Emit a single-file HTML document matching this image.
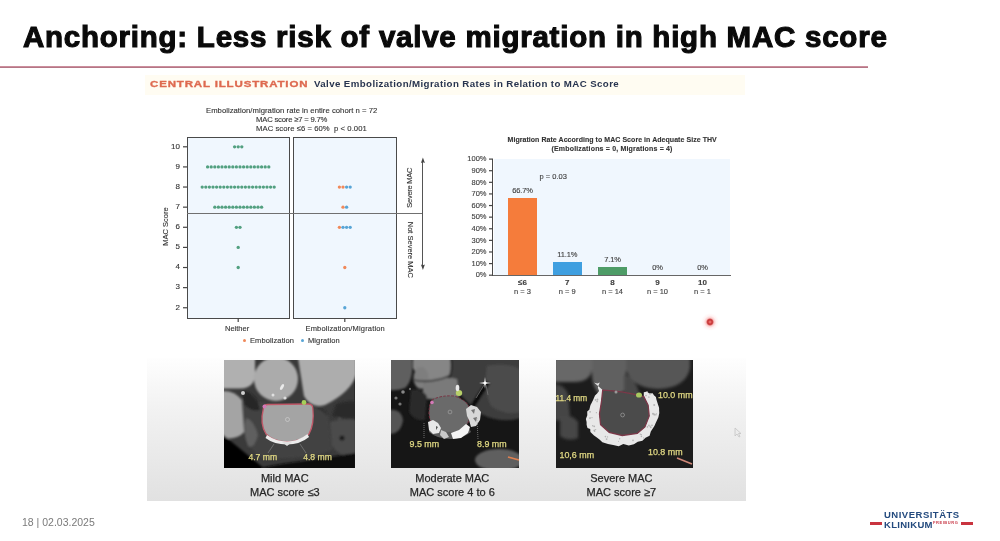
<!DOCTYPE html><html><head><meta charset="utf-8"><style>
*{margin:0;padding:0;box-sizing:border-box}
html,body{width:1000px;height:541px;overflow:hidden;background:#fff;font-family:"Liberation Sans",sans-serif}
.a{position:absolute;white-space:nowrap;line-height:1}
#title{left:23px;top:22px;font-size:29.5px;font-weight:bold;color:#0a0a0a;letter-spacing:0.76px;-webkit-text-stroke:1.1px #0a0a0a}
#rule{left:0;top:66px;width:868px;height:2.2px;background:linear-gradient(#d89aa8,#a86a7a)}
#hdrbg{left:145px;top:75px;width:600px;height:20px;background:#fffcf2}
#ci{left:150px;top:78.5px;font-size:9.6px;font-weight:bold;color:#de6a50;letter-spacing:0.7px;-webkit-text-stroke:0.35px #de6a50;transform:scaleX(1.2);transform-origin:0 0}
#cit{left:314px;top:79.3px;font-size:9.7px;font-weight:bold;color:#28344f;letter-spacing:0.4px}
.sm{font-size:7.7px;color:#333;-webkit-text-stroke:0.12px #333}
.panel{background:#f0f7fe;border:1px solid #4a4a4a}
.d{position:absolute;width:3.4px;height:3.4px;border-radius:50%}
.g{background:#52a080}
.o{background:#f0895a}
.b{background:#58a5d6}
.t{position:absolute;background:#4a4a4a}
.yl{font-size:8px;color:#333;text-align:right;-webkit-text-stroke:0.12px #333}
.bl{font-size:7px;color:#333;-webkit-text-stroke:0.12px #333}
#foot{left:22px;top:517px;font-size:10.5px;color:#7a7a7a}
.cap{font-size:11px;color:#262626;text-align:center;-webkit-text-stroke:0.25px #262626}
</style></head><body><div id="wrap" style="position:absolute;left:0;top:0;width:1000px;height:541px;filter:blur(0.35px)">
<div class="a" id="title">Anchoring: Less risk of valve migration in high MAC score</div>
<div class="a" id="rule"></div>
<div class="a" id="hdrbg"></div>
<div class="a" id="ci">CENTRAL ILLUSTRATION</div>
<div class="a" id="cit">Valve Embolization/Migration Rates in Relation to MAC Score</div>
<div class="a sm" style="left:206px;top:106.5px;letter-spacing:0.03px">Embolization/migration rate in entire cohort n = 72</div>
<div class="a sm" style="left:256px;top:115.5px;letter-spacing:-0.2px">MAC score ≥7 = 9.7%</div>
<div class="a sm" style="left:256px;top:125px;letter-spacing:0.05px">MAC score ≤6 = 60%&nbsp;&nbsp;p &lt; 0.001</div>
<div class="a panel" style="left:186.5px;top:136.5px;width:103px;height:182.5px"></div>
<div class="a panel" style="left:292.5px;top:136.5px;width:104.5px;height:182.5px"></div>
<div class="t" style="left:187px;top:213px;width:236px;height:1.3px;background:#707070"></div>
<div class="a yl" style="left:160px;width:20px;top:303.56px">2</div>
<div class="a yl" style="left:160px;width:20px;top:283.44px">3</div>
<div class="a yl" style="left:160px;width:20px;top:263.32px">4</div>
<div class="a yl" style="left:160px;width:20px;top:243.20px">5</div>
<div class="a yl" style="left:160px;width:20px;top:223.08px">6</div>
<div class="a yl" style="left:160px;width:20px;top:202.96px">7</div>
<div class="a yl" style="left:160px;width:20px;top:182.84px">8</div>
<div class="a yl" style="left:160px;width:20px;top:162.72px">9</div>
<div class="a yl" style="left:160px;width:20px;top:142.60px">10</div>
<svg class="a" style="left:0;top:0" width="1000" height="541"><line x1="183" x2="187" y1="307.76" y2="307.76" stroke="#444" stroke-width="1.2"/><line x1="183" x2="187" y1="287.64" y2="287.64" stroke="#444" stroke-width="1.2"/><line x1="183" x2="187" y1="267.52" y2="267.52" stroke="#444" stroke-width="1.2"/><line x1="183" x2="187" y1="247.40" y2="247.40" stroke="#444" stroke-width="1.2"/><line x1="183" x2="187" y1="227.28" y2="227.28" stroke="#444" stroke-width="1.2"/><line x1="183" x2="187" y1="207.16" y2="207.16" stroke="#444" stroke-width="1.2"/><line x1="183" x2="187" y1="187.04" y2="187.04" stroke="#444" stroke-width="1.2"/><line x1="183" x2="187" y1="166.92" y2="166.92" stroke="#444" stroke-width="1.2"/><line x1="183" x2="187" y1="146.80" y2="146.80" stroke="#444" stroke-width="1.2"/><line x1="238.2" x2="238.2" y1="318" y2="322" stroke="#444" stroke-width="1.2"/><line x1="344.8" x2="344.8" y1="318" y2="322" stroke="#444" stroke-width="1.2"/><circle cx="234.60" cy="146.80" r="1.65" fill="#52a080"/><circle cx="238.20" cy="146.80" r="1.65" fill="#52a080"/><circle cx="241.80" cy="146.80" r="1.65" fill="#52a080"/><circle cx="207.60" cy="166.92" r="1.65" fill="#52a080"/><circle cx="211.20" cy="166.92" r="1.65" fill="#52a080"/><circle cx="214.80" cy="166.92" r="1.65" fill="#52a080"/><circle cx="218.40" cy="166.92" r="1.65" fill="#52a080"/><circle cx="222.00" cy="166.92" r="1.65" fill="#52a080"/><circle cx="225.60" cy="166.92" r="1.65" fill="#52a080"/><circle cx="229.20" cy="166.92" r="1.65" fill="#52a080"/><circle cx="232.80" cy="166.92" r="1.65" fill="#52a080"/><circle cx="236.40" cy="166.92" r="1.65" fill="#52a080"/><circle cx="240.00" cy="166.92" r="1.65" fill="#52a080"/><circle cx="243.60" cy="166.92" r="1.65" fill="#52a080"/><circle cx="247.20" cy="166.92" r="1.65" fill="#52a080"/><circle cx="250.80" cy="166.92" r="1.65" fill="#52a080"/><circle cx="254.40" cy="166.92" r="1.65" fill="#52a080"/><circle cx="258.00" cy="166.92" r="1.65" fill="#52a080"/><circle cx="261.60" cy="166.92" r="1.65" fill="#52a080"/><circle cx="265.20" cy="166.92" r="1.65" fill="#52a080"/><circle cx="268.80" cy="166.92" r="1.65" fill="#52a080"/><circle cx="202.20" cy="187.04" r="1.65" fill="#52a080"/><circle cx="205.80" cy="187.04" r="1.65" fill="#52a080"/><circle cx="209.40" cy="187.04" r="1.65" fill="#52a080"/><circle cx="213.00" cy="187.04" r="1.65" fill="#52a080"/><circle cx="216.60" cy="187.04" r="1.65" fill="#52a080"/><circle cx="220.20" cy="187.04" r="1.65" fill="#52a080"/><circle cx="223.80" cy="187.04" r="1.65" fill="#52a080"/><circle cx="227.40" cy="187.04" r="1.65" fill="#52a080"/><circle cx="231.00" cy="187.04" r="1.65" fill="#52a080"/><circle cx="234.60" cy="187.04" r="1.65" fill="#52a080"/><circle cx="238.20" cy="187.04" r="1.65" fill="#52a080"/><circle cx="241.80" cy="187.04" r="1.65" fill="#52a080"/><circle cx="245.40" cy="187.04" r="1.65" fill="#52a080"/><circle cx="249.00" cy="187.04" r="1.65" fill="#52a080"/><circle cx="252.60" cy="187.04" r="1.65" fill="#52a080"/><circle cx="256.20" cy="187.04" r="1.65" fill="#52a080"/><circle cx="259.80" cy="187.04" r="1.65" fill="#52a080"/><circle cx="263.40" cy="187.04" r="1.65" fill="#52a080"/><circle cx="267.00" cy="187.04" r="1.65" fill="#52a080"/><circle cx="270.60" cy="187.04" r="1.65" fill="#52a080"/><circle cx="274.20" cy="187.04" r="1.65" fill="#52a080"/><circle cx="214.80" cy="207.16" r="1.65" fill="#52a080"/><circle cx="218.40" cy="207.16" r="1.65" fill="#52a080"/><circle cx="222.00" cy="207.16" r="1.65" fill="#52a080"/><circle cx="225.60" cy="207.16" r="1.65" fill="#52a080"/><circle cx="229.20" cy="207.16" r="1.65" fill="#52a080"/><circle cx="232.80" cy="207.16" r="1.65" fill="#52a080"/><circle cx="236.40" cy="207.16" r="1.65" fill="#52a080"/><circle cx="240.00" cy="207.16" r="1.65" fill="#52a080"/><circle cx="243.60" cy="207.16" r="1.65" fill="#52a080"/><circle cx="247.20" cy="207.16" r="1.65" fill="#52a080"/><circle cx="250.80" cy="207.16" r="1.65" fill="#52a080"/><circle cx="254.40" cy="207.16" r="1.65" fill="#52a080"/><circle cx="258.00" cy="207.16" r="1.65" fill="#52a080"/><circle cx="261.60" cy="207.16" r="1.65" fill="#52a080"/><circle cx="236.40" cy="227.28" r="1.65" fill="#52a080"/><circle cx="240.00" cy="227.28" r="1.65" fill="#52a080"/><circle cx="238.20" cy="247.40" r="1.65" fill="#52a080"/><circle cx="238.20" cy="267.52" r="1.65" fill="#52a080"/><circle cx="339.40" cy="187.04" r="1.65" fill="#f0895a"/><circle cx="343.00" cy="187.04" r="1.65" fill="#f0895a"/><circle cx="346.60" cy="187.04" r="1.65" fill="#58a5d6"/><circle cx="350.20" cy="187.04" r="1.65" fill="#58a5d6"/><circle cx="343.00" cy="207.16" r="1.65" fill="#f0895a"/><circle cx="346.60" cy="207.16" r="1.65" fill="#58a5d6"/><circle cx="339.40" cy="227.28" r="1.65" fill="#f0895a"/><circle cx="343.00" cy="227.28" r="1.65" fill="#58a5d6"/><circle cx="346.60" cy="227.28" r="1.65" fill="#58a5d6"/><circle cx="350.20" cy="227.28" r="1.65" fill="#58a5d6"/><circle cx="344.80" cy="267.52" r="1.65" fill="#f0895a"/><circle cx="344.80" cy="307.76" r="1.65" fill="#58a5d6"/></svg>
<div class="a bl" style="left:225px;top:325px;font-size:7.5px">Neither</div>
<div class="a bl" style="left:305.5px;top:325px;font-size:7.5px;letter-spacing:0.16px">Embolization/Migration</div>
<div class="d o" style="left:242.8px;top:339px"></div>
<div class="a bl" style="left:250px;top:337px;font-size:7.5px;letter-spacing:0.1px">Embolization</div>
<div class="d b" style="left:300.8px;top:339px"></div>
<div class="a bl" style="left:308px;top:337px;font-size:7.5px;letter-spacing:0.1px">Migration</div>
<div class="a bl" style="left:148px;top:224px;width:36px;text-align:center;transform:rotate(-90deg);font-size:7.5px">MAC Score</div>
<div class="t" style="left:422.3px;top:161px;width:1.2px;height:106px;background:#555"></div>
<svg class="a" style="left:419px;top:157px" width="8" height="8"><path d="M3.9 0.5 L5.9 6 L3.9 5.2 L1.9 6 Z" fill="#444"/></svg>
<svg class="a" style="left:419px;top:264px" width="8" height="8"><path d="M3.9 6 L5.9 0.5 L3.9 1.3 L1.9 0.5 Z" fill="#444"/></svg>
<div class="a bl" style="left:389px;top:184px;width:42px;text-align:center;transform:rotate(-90deg);font-size:7.5px;letter-spacing:-0.25px">Severe MAC</div>
<div class="a bl" style="left:382px;top:246px;width:56px;text-align:center;transform:rotate(90deg);font-size:7.5px">Not Severe MAC</div>
<div class="a bl" style="left:507.5px;top:136px;font-size:7px;font-weight:bold;color:#333;letter-spacing:0.05px">Migration Rate According to MAC Score in Adequate Size THV</div>
<div class="a bl" style="left:551.5px;top:145px;font-size:7px;font-weight:bold;color:#333;letter-spacing:0.17px">(Embolizations = 0, Migrations = 4)</div>
<div class="a" style="left:494px;top:159px;width:236px;height:116px;background:#f0f7fe"></div>
<div class="t" style="left:492px;top:159px;width:1.3px;height:117px"></div>
<div class="t" style="left:492px;top:275px;width:239px;height:1.3px;background:#666"></div>
<svg class="a" style="left:480px;top:0" width="20" height="300"><line x1="9" x2="13" y1="275.20" y2="275.20" stroke="#444" stroke-width="1.2"/></svg>
<div class="a yl" style="left:456px;width:30.5px;top:271.40px;font-size:7.5px;color:#444">0%</div>
<svg class="a" style="left:480px;top:0" width="20" height="300"><line x1="9" x2="13" y1="263.59" y2="263.59" stroke="#444" stroke-width="1.2"/></svg>
<div class="a yl" style="left:456px;width:30.5px;top:259.79px;font-size:7.5px;color:#444">10%</div>
<svg class="a" style="left:480px;top:0" width="20" height="300"><line x1="9" x2="13" y1="251.98" y2="251.98" stroke="#444" stroke-width="1.2"/></svg>
<div class="a yl" style="left:456px;width:30.5px;top:248.18px;font-size:7.5px;color:#444">20%</div>
<svg class="a" style="left:480px;top:0" width="20" height="300"><line x1="9" x2="13" y1="240.37" y2="240.37" stroke="#444" stroke-width="1.2"/></svg>
<div class="a yl" style="left:456px;width:30.5px;top:236.57px;font-size:7.5px;color:#444">30%</div>
<svg class="a" style="left:480px;top:0" width="20" height="300"><line x1="9" x2="13" y1="228.76" y2="228.76" stroke="#444" stroke-width="1.2"/></svg>
<div class="a yl" style="left:456px;width:30.5px;top:224.96px;font-size:7.5px;color:#444">40%</div>
<svg class="a" style="left:480px;top:0" width="20" height="300"><line x1="9" x2="13" y1="217.15" y2="217.15" stroke="#444" stroke-width="1.2"/></svg>
<div class="a yl" style="left:456px;width:30.5px;top:213.35px;font-size:7.5px;color:#444">50%</div>
<svg class="a" style="left:480px;top:0" width="20" height="300"><line x1="9" x2="13" y1="205.54" y2="205.54" stroke="#444" stroke-width="1.2"/></svg>
<div class="a yl" style="left:456px;width:30.5px;top:201.74px;font-size:7.5px;color:#444">60%</div>
<svg class="a" style="left:480px;top:0" width="20" height="300"><line x1="9" x2="13" y1="193.93" y2="193.93" stroke="#444" stroke-width="1.2"/></svg>
<div class="a yl" style="left:456px;width:30.5px;top:190.13px;font-size:7.5px;color:#444">70%</div>
<svg class="a" style="left:480px;top:0" width="20" height="300"><line x1="9" x2="13" y1="182.32" y2="182.32" stroke="#444" stroke-width="1.2"/></svg>
<div class="a yl" style="left:456px;width:30.5px;top:178.52px;font-size:7.5px;color:#444">80%</div>
<svg class="a" style="left:480px;top:0" width="20" height="300"><line x1="9" x2="13" y1="170.71" y2="170.71" stroke="#444" stroke-width="1.2"/></svg>
<div class="a yl" style="left:456px;width:30.5px;top:166.91px;font-size:7.5px;color:#444">90%</div>
<svg class="a" style="left:480px;top:0" width="20" height="300"><line x1="9" x2="13" y1="159.10" y2="159.10" stroke="#444" stroke-width="1.2"/></svg>
<div class="a yl" style="left:456px;width:30.5px;top:155.30px;font-size:7.5px;color:#444">100%</div>
<div class="a" style="left:508.00px;top:197.76px;width:29px;height:77.44px;background:#f57c3b"></div>
<div class="a bl" style="left:502.50px;width:40px;text-align:center;top:186.76px;font-size:7.5px;color:#444;letter-spacing:-0.15px">66.7%</div>
<div class="a bl" style="left:502.50px;width:40px;text-align:center;top:279px;font-size:8px;font-weight:bold;color:#444">≤6</div>
<div class="a bl" style="left:502.50px;width:40px;text-align:center;top:288px;font-size:7.5px;color:#444">n = 3</div>
<div class="a" style="left:552.80px;top:262.31px;width:29px;height:12.89px;background:#3f9fe0"></div>
<div class="a bl" style="left:547.30px;width:40px;text-align:center;top:251.31px;font-size:7.5px;color:#444;letter-spacing:-0.15px">11.1%</div>
<div class="a bl" style="left:547.30px;width:40px;text-align:center;top:279px;font-size:8px;font-weight:bold;color:#444">7</div>
<div class="a bl" style="left:547.30px;width:40px;text-align:center;top:288px;font-size:7.5px;color:#444">n = 9</div>
<div class="a" style="left:598.00px;top:266.96px;width:29px;height:8.24px;background:#4e9c67"></div>
<div class="a bl" style="left:592.50px;width:40px;text-align:center;top:255.96px;font-size:7.5px;color:#444;letter-spacing:-0.15px">7.1%</div>
<div class="a bl" style="left:592.50px;width:40px;text-align:center;top:279px;font-size:8px;font-weight:bold;color:#444">8</div>
<div class="a bl" style="left:592.50px;width:40px;text-align:center;top:288px;font-size:7.5px;color:#444">n = 14</div>
<div class="a bl" style="left:637.50px;width:40px;text-align:center;top:264.00px;font-size:7.5px;color:#444;letter-spacing:-0.15px">0%</div>
<div class="a bl" style="left:637.50px;width:40px;text-align:center;top:279px;font-size:8px;font-weight:bold;color:#444">9</div>
<div class="a bl" style="left:637.50px;width:40px;text-align:center;top:288px;font-size:7.5px;color:#444">n = 10</div>
<div class="a bl" style="left:682.50px;width:40px;text-align:center;top:264.00px;font-size:7.5px;color:#444;letter-spacing:-0.15px">0%</div>
<div class="a bl" style="left:682.50px;width:40px;text-align:center;top:279px;font-size:8px;font-weight:bold;color:#444">10</div>
<div class="a bl" style="left:682.50px;width:40px;text-align:center;top:288px;font-size:7.5px;color:#444">n = 1</div>
<div class="a bl" style="left:539.5px;top:173px;font-size:7.5px;color:#444">p = 0.03</div>
<div class="a" style="left:701px;top:312.5px;width:18px;height:18px;border-radius:50%;background:radial-gradient(circle closest-side,#f28a86 0,#dc5050 14%,#c43434 25%,#d45454 33%,rgba(245,150,150,.5) 44%,rgba(255,200,200,.22) 68%,rgba(255,255,255,0) 100%)"></div>
<div class="a" style="left:146.5px;top:358px;width:599px;height:142.5px;background:linear-gradient(#fefefe,#f2f2f2 35%,#e1e1e1)"></div>
<div class="a" style="left:224.0px;top:359.5px;width:130.5px;height:108px;background:#1a1a1a;overflow:hidden"><svg width="130.5" height="108" viewBox="0 0 130.5 108" style="position:absolute;left:0;top:0"><defs><filter id="bl1" x="-20%" y="-20%" width="140%" height="140%"><feGaussianBlur stdDeviation="1.3"/></filter><filter id="bs1"><feGaussianBlur stdDeviation="0.6"/></filter></defs><rect width="130.5" height="108" fill="#3a3a3a"/><g filter="url(#bl1)"><path d="M-2 -2 H31 V14 Q31 28 16 28.5 H-2 Z" fill="#b0b0b0"/><circle cx="52" cy="19" r="22" fill="#ababab"/><path d="M74 -2 H132 V15 Q127 32 101 45 Q87 49 80 36 Z" fill="#adadad"/><path d="M-2 31 Q10 30 18 40 L20 72 Q14 80 -2 78 Z" fill="#a4a4a4"/><circle cx="120" cy="47" r="3" fill="#a0a0a0"/><circle cx="116" cy="56" r="2.5" fill="#909090"/><path d="M106 62 Q118 58 132 60 V96 Q114 97 108 86 Z" fill="#4c4c4c"/><path d="M92 48 Q100 46 104 56 L100 70 Q94 60 92 48 Z" fill="#2e2e2e"/><path d="M112 44 Q124 40 132 42 L132 58 Q120 60 108 56 Z" fill="#2a2a2a"/><circle cx="118" cy="78" r="2.6" fill="#1e1e1e"/><path d="M20 44 Q40 40 60 46 Q90 42 104 56 L108 90 Q80 100 40 98 Q22 90 20 70 Z" fill="#434343"/><path d="M22 58 Q30 60 34 75 Q30 90 24 86 Q18 72 22 58 Z" fill="#5e5e5e"/><path d="M18 30 Q28 32 34 42 L36 50 Q26 52 20 44 Z" fill="#262626"/><path d="M-2 74 L42 110 L-2 110 Z" fill="#060606"/><path d="M36 108 Q60 103 80 101 Q105 97 132 93 V110 H36 Z" fill="#0e0e0e"/></g><g filter="url(#bs1)"><path d="M39.5 48 Q39.5 44.5 44 44.5 L84 44 Q88.5 44 88.8 48 Q90.5 64 85 74 Q76 82 63 82 Q50 82 42 74 Q35.5 64 39.5 48 Z" fill="#a4a4a4" stroke="#c05868" stroke-width="1.3"/><path d="M43 75 Q52 81.5 63 81.5 Q74 81.5 83.5 74 L85 77 Q76 84.5 63 84.5 Q50 84.5 41.5 78 Z" fill="#ececec"/><path d="M58 82 L63 86 L68 82 Z" fill="#e0e0e0"/><circle cx="63.5" cy="59.5" r="2" fill="none" stroke="#d4d4d4" stroke-width="0.6"/><circle cx="40.5" cy="46.5" r="2" fill="#d47ab8"/><circle cx="80" cy="42.5" r="2.4" fill="#a6d05a"/><ellipse cx="58" cy="27" rx="1.4" ry="3.2" fill="#eaeaea" transform="rotate(30 58 27)"/><circle cx="49" cy="35" r="1.5" fill="#e0e0e0"/><circle cx="61" cy="38" r="1.6" fill="#dcdcdc"/><circle cx="19" cy="33" r="2" fill="#d0d0d0"/><path d="M50 84 L44 93 M76 84 L82 93" stroke="#999" stroke-width="0.5"/></g><text x="24.4" y="99.5" font-family="Liberation Sans" font-size="8.6" fill="#e2da84" stroke="#e2da84" stroke-width="0.25" filter="url(#bs1)">4.7 mm</text><text x="79.2" y="99.5" font-family="Liberation Sans" font-size="8.6" fill="#e2da84" stroke="#e2da84" stroke-width="0.25" filter="url(#bs1)">4.8 mm</text></svg></div>
<div class="a" style="left:391.0px;top:359.5px;width:127.5px;height:108px;background:#1a1a1a;overflow:hidden"><svg width="127.5" height="108" viewBox="0 0 127.5 108" style="position:absolute;left:0;top:0"><defs><filter id="bl2" x="-20%" y="-20%" width="140%" height="140%"><feGaussianBlur stdDeviation="1.0"/></filter><filter id="bs2"><feGaussianBlur stdDeviation="0.6"/></filter></defs><rect width="127.5" height="108" fill="#161616"/><g filter="url(#bl2)"><path d="M58 -2 H130 V58 Q110 64 90 54 Q72 40 60 22 Z" fill="#3e3e3e"/><path d="M96 6 Q118 2 130 10 V52 Q114 56 100 46 Q92 30 96 6 Z" fill="#4c4c4c"/><path d="M-2 -2 H21 Q23 20 14 28 Q6 31 -2 30 Z" fill="#5e5e5e"/><path d="M22 -2 H60 V14 Q52 22 40 21 Q26 19 22 8 Z" fill="#868686"/><ellipse cx="30" cy="18" rx="7.5" ry="11" fill="#7e7e7e"/><path d="M32 22 Q48 15 66 19 L68 38 Q50 42 32 38 Z" fill="#7a7a7a"/><path d="M97 22 L74 58" stroke="#111" stroke-width="5"/><path d="M22 20 Q40 24 58 16" stroke="#3a3a3a" stroke-width="1.6" fill="none"/><path d="M60 -2 Q62 10 58 18" stroke="#222" stroke-width="2" fill="none"/><path d="M-2 50 Q10 48 12 60 Q10 74 -2 74 Z" fill="#555"/><path d="M20 30 Q30 28 36 36 L34 60 Q24 62 18 52 Z" fill="#2a2a2a"/><ellipse cx="108" cy="100" rx="24" ry="11" fill="#5e5e5e"/></g><g filter="url(#bs2)"><circle cx="12" cy="32" r="1.8" fill="#888"/><circle cx="5" cy="38" r="1.6" fill="#777"/><circle cx="9" cy="44" r="1.6" fill="#777"/><circle cx="19" cy="29" r="1.2" fill="#666"/><path d="M41 40 Q50 35 63 36 Q77 40 79 50 Q79 64 72 70 Q60 75 48 72 Q39 66 38 54 Q38 44 41 40 Z" fill="#6a6a6a" stroke="#7a3040" stroke-width="1" stroke-dasharray="2.5 1.5"/><path d="M38 64 Q46 71 57 72 Q68 72 77 66 L80 72 Q71 79 60 79 Q46 79 38 72 Z" fill="#5a5a5a"/><path d="M75 49 L80 45 L86 47 L90 52 L89 60 L85 66 L80 67 L78 60 L76 56 Z" fill="#d8d8d8"/><path d="M80 50 L84 49 L83 54 Z M82 58 L86 57 L85 62 Z" fill="#777"/><path d="M37 62 L42 60 L47 63 L50 68 L48 73 L42 74 L38 70 Z" fill="#e8e8e8"/><path d="M50 70 L55 72 L58 77 L53 79 L49 75 Z" fill="#c8c8c8"/><path d="M60 73 L68 70 L75 64 L79 67 L77 73 L70 78 L62 79 Z" fill="#f4f4f4"/><path d="M45 66 L47 67 L45 70 Z" fill="#555"/><circle cx="59" cy="52" r="1.9" fill="none" stroke="#aaa" stroke-width="0.6"/><circle cx="41" cy="42.5" r="1.8" fill="#d47ab8"/><ellipse cx="68" cy="33" rx="3.2" ry="3" fill="#b8d068"/><ellipse cx="66.5" cy="28" rx="1.8" ry="3.2" fill="#e8e8e8"/><path d="M94 17 L94.7 22.3 L100 23 L94.7 23.7 L94 29 L93.3 23.7 L88 23 L93.3 22.3 Z" fill="#fff"/><circle cx="94" cy="23" r="1.5" fill="#fff"/><path d="M93 25 L85 38 M95 25 L97 35" stroke="#777" stroke-width="0.7"/><path d="M33 63 L33 78 M86 58 L87 80" stroke="#aaa" stroke-width="0.6" stroke-dasharray="1 1"/><path d="M117 97 L128 100" stroke="#e08050" stroke-width="1.8"/></g><text x="18.5" y="87.0" font-family="Liberation Sans" font-size="8.9" fill="#e2da84" stroke="#e2da84" stroke-width="0.25" filter="url(#bs2)">9.5 mm</text><text x="86.0" y="87.0" font-family="Liberation Sans" font-size="8.9" fill="#e2da84" stroke="#e2da84" stroke-width="0.25" filter="url(#bs2)">8.9 mm</text></svg></div>
<div class="a" style="left:556.0px;top:359.5px;width:136.5px;height:108px;background:#1a1a1a;overflow:hidden"><svg width="136.5" height="108" viewBox="0 0 136.5 108" style="position:absolute;left:0;top:0"><defs><filter id="bl3" x="-20%" y="-20%" width="140%" height="140%"><feGaussianBlur stdDeviation="1.4"/></filter><filter id="bs3"><feGaussianBlur stdDeviation="0.6"/></filter></defs><rect width="136.5" height="108" fill="#1c1c1c"/><g filter="url(#bl3)"><path d="M-2 -2 H36 V10 Q34 22 18 22 H-2 Z" fill="#686868"/><path d="M36 -2 H70 V28 Q62 40 48 38 Q36 30 36 14 Z" fill="#606060"/><path d="M70 -2 H134 V8 Q130 28 102 29 Q76 28 70 10 Z" fill="#575757"/><path d="M-2 24 Q8 24 12 34 L14 56 Q8 62 -2 60 Z" fill="#444"/><path d="M4 56 Q16 54 22 62 L22 78 Q12 82 4 76 Z" fill="#474747"/><path d="M68 14 Q80 18 84 36 L78 54 L68 54 Z" fill="#4a4a4a"/><path d="M48 -2 H62 V20 Q54 26 48 20 Z" fill="#606060"/></g><g filter="url(#bs3)"><path d="M38.0 22.5 L39.3 23.0 L41.4 23.5 L43.8 22.6 L41.9 26.8 L42.0 27.9 L43.1 30.9 L41.1 33.5 L39.0 35.4 L37.3 39.5 L35.6 42.9 L34.5 45.0 L33.3 49.8 L31.2 51.4 L31.3 55.3 L29.9 59.0 L30.6 62.0 L30.6 64.7 L31.5 67.9 L34.2 68.9 L34.4 72.0 L38.0 75.4 L40.5 77.2 L43.5 79.6 L46.4 82.2 L52.0 84.0 L57.2 85.1 L62.7 86.3 L67.3 84.1 L72.8 85.5 L77.9 84.3 L81.8 81.7 L86.4 80.7 L89.5 77.7 L93.6 75.8 L94.8 71.5 L98.4 66.1 L99.6 63.2 L102.4 57.2 L103.3 52.9 L103.1 49.9 L103.1 47.8 L101.9 44.2 L100.4 39.6 L99.9 37.0 L97.9 35.3 L96.7 33.3 L93.3 33.4 L91.7 32.2 L91.5 31.3 L89.1 32.0 L87.8 32.3 L87.8 36.6 L92.1 45.2 L93.2 56.0 L88.9 66.9 L81.3 73.3 L66.2 75.5 L53.2 72.3 L44.6 64.7 L43.5 53.9 L45.6 40.9 L46.7 30.1 Z" fill="#e8e8e8"/><g fill="#b4b4b4"><circle cx="97.0" cy="53.7" r="1.0"/><circle cx="92.9" cy="36.9" r="0.6"/><circle cx="39.6" cy="69.6" r="0.7"/><circle cx="94.0" cy="34.1" r="0.8"/><circle cx="100.4" cy="53.9" r="0.7"/><circle cx="49.4" cy="76.6" r="0.8"/><circle cx="99.9" cy="55.0" r="0.6"/><circle cx="94.1" cy="66.2" r="0.7"/><circle cx="96.0" cy="65.3" r="0.9"/><circle cx="91.4" cy="66.9" r="0.8"/><circle cx="38.6" cy="71.3" r="0.8"/><circle cx="40.4" cy="52.7" r="0.6"/><circle cx="90.0" cy="35.6" r="0.8"/><circle cx="92.9" cy="65.4" r="0.8"/><circle cx="38.2" cy="66.3" r="0.9"/><circle cx="51.5" cy="76.9" r="0.7"/><circle cx="36.0" cy="57.6" r="0.7"/><circle cx="98.2" cy="54.5" r="1.0"/><circle cx="34.2" cy="58.0" r="0.8"/><circle cx="87.7" cy="77.9" r="0.6"/><circle cx="98.2" cy="45.1" r="1.0"/><circle cx="85.3" cy="74.7" r="0.8"/><circle cx="38.3" cy="70.3" r="0.9"/><circle cx="85.4" cy="76.5" r="0.8"/><circle cx="39.7" cy="39.8" r="0.6"/><circle cx="41.1" cy="41.6" r="0.8"/><circle cx="50.6" cy="79.1" r="0.9"/><circle cx="39.5" cy="39.8" r="0.9"/><circle cx="33.7" cy="58.2" r="0.6"/><circle cx="41.5" cy="39.4" r="0.9"/><circle cx="36.7" cy="65.7" r="0.7"/><circle cx="92.9" cy="37.3" r="0.5"/><circle cx="41.3" cy="40.7" r="0.5"/><circle cx="84.3" cy="74.3" r="0.7"/><circle cx="63.7" cy="78.7" r="0.7"/><circle cx="34.1" cy="51.8" r="0.9"/><circle cx="94.8" cy="67.3" r="0.9"/><circle cx="62.5" cy="81.2" r="0.5"/><circle cx="98.9" cy="54.6" r="0.8"/><circle cx="77.0" cy="80.4" r="0.8"/></g><path d="M87.8 36.6 L92.1 45.2 L93.2 56.0 L88.9 66.9 L81.3 73.3 L66.2 75.5 L53.2 72.3 L44.6 64.7 L43.5 53.9 L45.6 40.9 L46.7 30.1 Q67 31 87.8 36.6 Z" fill="#4c4c4c" stroke="#7a3848" stroke-width="1.3"/><circle cx="66.6" cy="55" r="1.9" fill="none" stroke="#aaa" stroke-width="0.6"/><ellipse cx="83" cy="35" rx="3" ry="2.6" fill="#a8c860"/><circle cx="60" cy="32" r="1.5" fill="#999"/><path d="M121 98 L136 104" stroke="#d08878" stroke-width="1.8"/></g><text x="-0.5" y="41.0" font-family="Liberation Sans" font-size="8.3" fill="#e2da84" stroke="#e2da84" stroke-width="0.25" filter="url(#bs3)">11.4 mm</text><text x="102.0" y="38.0" font-family="Liberation Sans" font-size="8.9" fill="#e2da84" stroke="#e2da84" stroke-width="0.25" filter="url(#bs3)">10.0 mm</text><text x="3.5" y="98.0" font-family="Liberation Sans" font-size="8.9" fill="#e2da84" stroke="#e2da84" stroke-width="0.25" filter="url(#bs3)">10,6 mm</text><text x="92.0" y="95.0" font-family="Liberation Sans" font-size="8.9" fill="#e2da84" stroke="#e2da84" stroke-width="0.25" filter="url(#bs3)">10.8 mm</text></svg></div>
<div class="a cap" style="left:224.8px;width:120px;top:473px">Mild MAC</div>
<div class="a cap" style="left:224.8px;width:120px;top:486.5px">MAC score ≤3</div>
<div class="a cap" style="left:392.3px;width:120px;top:473px">Moderate MAC</div>
<div class="a cap" style="left:392.3px;width:120px;top:486.5px">MAC score 4 to 6</div>
<div class="a cap" style="left:561.4px;width:120px;top:473px">Severe MAC</div>
<div class="a cap" style="left:561.4px;width:120px;top:486.5px">MAC score ≥7</div>
<div class="a" id="foot">18 | 02.03.2025</div>
<div class="a" style="left:884px;top:510px;font-size:9.5px;font-weight:bold;color:#234a7e;letter-spacing:0.5px">UNIVERSITÄTS</div>
<div class="a" style="left:884px;top:520px;font-size:9.5px;font-weight:bold;color:#234a7e;letter-spacing:0.3px">KLINIKUM</div>
<div class="a" style="left:933px;top:521px;font-size:4px;font-weight:bold;color:#c83a48;letter-spacing:0.55px">FREIBURG</div>
<div class="a" style="left:870px;top:521.5px;width:12px;height:3px;background:#c9343f"></div>
<div class="a" style="left:961px;top:521.5px;width:12px;height:3px;background:#c9343f"></div>
<svg class="a" style="left:733px;top:427px" width="10" height="12"><path d="M2 1 L2 9 L4 7 L6 10 L7 9.5 L5.5 6.5 L8 6.5 Z" fill="#ececec" stroke="#c4c4c4" stroke-width="0.8" style="filter:blur(0.4px)"/></svg>
</div></body></html>
